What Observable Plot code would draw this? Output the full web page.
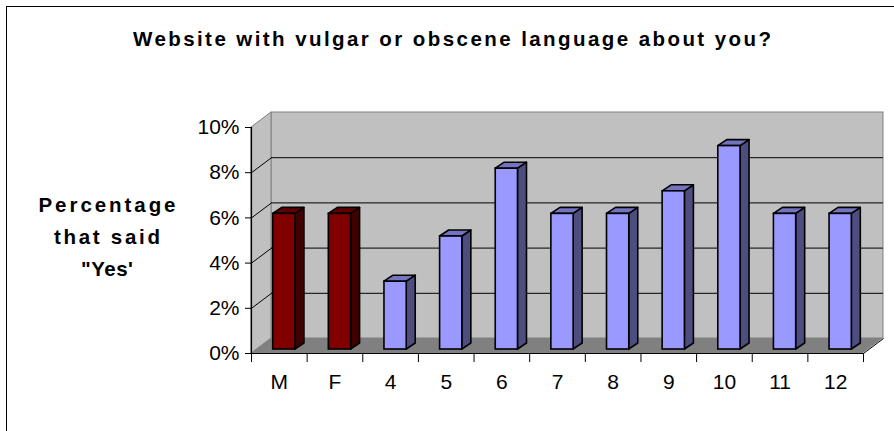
<!DOCTYPE html>
<html>
<head>
<meta charset="utf-8">
<script src="https://cdn.jsdelivr.net/npm/d3@7"></script>
<script src="https://cdn.jsdelivr.net/npm/@observablehq/plot@0.6"></script>
<style>
  html, body { margin: 0; padding: 0; background: #fff; overflow: hidden; width: 894px; height: 431px; }
  #wrap { position: relative; width: 894px; height: 431px; }
  #border { position: absolute; left: 6px; top: 6px; width: 2000px; height: 2000px; border: 1.5px solid #000; box-sizing: border-box; }
  .lbl { position: absolute; font-family: "Liberation Sans", Arial, sans-serif; font-weight: bold; color: #000; white-space: nowrap; }
  #chart { position: absolute; left: 0; top: 0; }
</style>
</head>
<body>
<div id="wrap">
  <div id="border"></div>
  <div id="chart"></div>
</div>
<script>
// ---- data ----
const title = "Website with vulgar or obscene language about you?";
const yLabelLines = ["Percentage", "that said", "\"Yes'"];
const categories = ["M", "F", "4", "5", "6", "7", "8", "9", "10", "11", "12"];
const values = [6, 6, 3, 5, 8, 6, 6, 7, 9, 6, 6];
const groups = ["gender", "gender", "grade", "grade", "grade", "grade", "grade", "grade", "grade", "grade", "grade"];
const yTicks = [0, 2, 4, 6, 8, 10];
const palette = {
  gender: {front: "#800000", side: "#400000", top: "#600000"},
  grade: {front: "#9999ff", side: "#4d4d80", top: "#7373bf"}
};

// ---- geometry (pixel sizes converted to data units) ----
const W = 894, H = 431;
const mL = 251, mR = 11, mT = 112, mB = 78;
const n = categories.length;
const wallDX = 20, wallDY = 15;           // px depth of the 3D box
const PX = (W - mL - mR - wallDX) / n;   // px per category
const PY = (H - mT - mB - wallDY) / 10;  // px per percent
const dX = wallDX / PX, dY = wallDY / PY;
const barW = 0.4;                         // fraction of category
const bOffX = 5 / PX, bOffY = 4 / PY;     // bar front face offset into depth
const bDX = 9 / PX, bDY = 6 / PY;         // bar depth

const data = categories.map((c, i) => ({c, i, v: values[i], g: groups[i]}));
const x0 = d => d.i + 0.5 - barW / 2 + bOffX;
const x1 = d => d.i + 0.5 + barW / 2 + bOffX;

const sideData = data.flatMap(d => [
  {i: d.i, g: d.g, x: x1(d), y1: bOffY, y2: bOffY + d.v},
  {i: d.i, g: d.g, x: x1(d) + bDX, y1: bOffY + bDY, y2: bOffY + bDY + d.v}
]);
const topData = data.flatMap(d => [
  {i: d.i, g: d.g, y: bOffY + d.v, x1: x0(d), x2: x1(d)},
  {i: d.i, g: d.g, y: bOffY + d.v + bDY, x1: x0(d) + bDX, x2: x1(d) + bDX}
]);
const gridVals = yTicks.filter(v => v > 0 && v < 10);

const plot = Plot.plot({
  width: W, height: H,
  marginLeft: mL, marginRight: mR, marginTop: mT, marginBottom: mB,
  x: {domain: [0, n + dX], axis: null},
  y: {domain: [0, 10 + dY], axis: null},
  style: {fontFamily: "Liberation Sans, Arial, sans-serif", background: "transparent"},
  marks: [
    // back wall
    Plot.rect([0], {x1: dX, x2: n + dX, y1: dY, y2: 10 + dY, fill: "#c0c0c0", stroke: "#808080", strokeWidth: 1}),
    // left wall
    Plot.areaY([{x: 0, y1: 0, y2: 10}, {x: dX, y1: dY, y2: 10 + dY}], {x: "x", y1: "y1", y2: "y2", fill: "#c0c0c0", stroke: "#808080", strokeWidth: 1}),
    // floor
    Plot.areaX([{y: 0, x1: 0, x2: n}, {y: dY, x1: dX, x2: n + dX}], {y: "y", x1: "x1", x2: "x2", fill: "#808080"}),
    // floor right edge
    Plot.link([0], {x1: n, y1: 0, x2: n + dX, y2: dY, stroke: "#000", strokeWidth: 1}),
    // gridlines on back wall
    Plot.ruleY(gridVals, {y: v => v + dY, x1: dX, x2: n + dX, stroke: "#000", strokeWidth: 1}),
    // gridlines on left wall
    Plot.link(gridVals, {x1: 0, y1: v => v, x2: dX, y2: v => v + dY, stroke: "#000", strokeWidth: 1}),
    // axis lines
    Plot.ruleX([0], {y1: 0, y2: 10, stroke: "#000", strokeWidth: 1.2}),
    Plot.ruleY([0], {x1: 0, x2: n, stroke: "#000", strokeWidth: 1.2}),
    // bars: side, top, front
    Plot.areaY(sideData, {x: "x", y1: "y1", y2: "y2", z: "i", fill: d => palette[d.g].side, stroke: "#000", strokeWidth: 1.6, strokeLinejoin: "round"}),
    Plot.areaX(topData, {y: "y", x1: "x1", x2: "x2", z: "i", fill: d => palette[d.g].top, stroke: "#000", strokeWidth: 1.6, strokeLinejoin: "round"}),
    Plot.rect(data, {x1: x0, x2: x1, y1: bOffY, y2: d => bOffY + d.v, fill: d => palette[d.g].front, stroke: "#000", strokeWidth: 1.6, inset: 0}),
    // axes
    Plot.axisY({ticks: yTicks, tickFormat: d => d + "%", tickSize: 6, tickPadding: 6, fontSize: 21, stroke: "#000", color: "#000"}),
    Plot.axisX({ticks: d3.range(0, n + 1), tickFormat: () => "", tickSize: 9, stroke: "#000"}),
    Plot.axisX({ticks: d3.range(0, n).map(i => i + 0.5), tickFormat: t => categories[Math.floor(t)], tickSize: 0, tickPadding: 21, fontSize: 21, color: "#000"})
  ]
});
document.getElementById("chart").appendChild(plot);

// ---- title and y label ----
const wrap = document.getElementById("wrap");
function addLabel(text, cx, baseline, size, targetWidth) {
  const el = document.createElement("div");
  el.className = "lbl";
  el.textContent = text;
  el.style.fontSize = size + "px";
  el.style.lineHeight = "1";
  wrap.appendChild(el);
  const w0 = el.getBoundingClientRect().width;
  const ls = (targetWidth - w0) / Math.max(1, text.length - 1);
  el.style.letterSpacing = ls + "px";
  const w = el.getBoundingClientRect().width - ls;
  el.style.left = (cx - w / 2) + "px";
  el.style.top = (baseline - size * 0.905) + "px";
}
addLabel(title, 452, 48, 20.5, 638);
addLabel(yLabelLines[0], 107, 214, 20.5, 137);
addLabel(yLabelLines[1], 107, 246, 20.5, 106);
addLabel(yLabelLines[2], 107, 278, 20.5, 52);
</script>
</body>
</html>
